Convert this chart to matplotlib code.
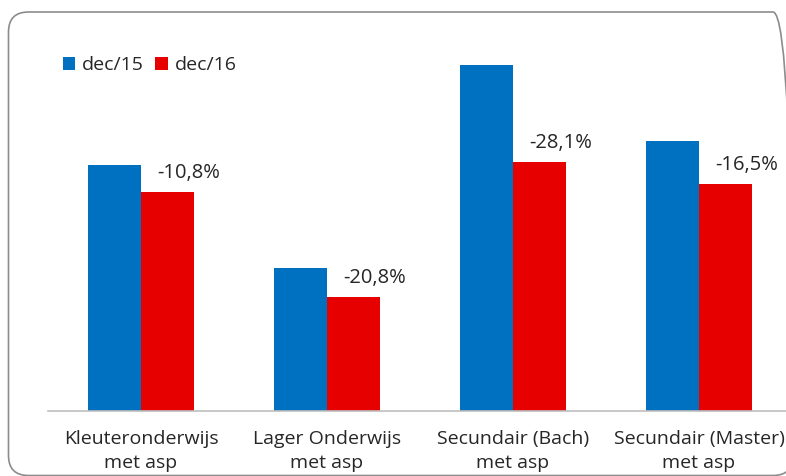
import matplotlib
matplotlib.use("Agg")
import matplotlib.pyplot as plt
from matplotlib.patches import FancyBboxPatch
from matplotlib.transforms import IdentityTransform
import numpy as np

categories = ["Kleuteronderwijs\nmet asp", "Lager Onderwijs\nmet asp",
              "Secundair (Bach)\nmet asp", "Secundair (Master)\nmet asp"]
dec15 = [246, 143, 346, 270]
dec16 = [219, 114, 249, 227]
changes = ["-10,8%", "-20,8%", "-28,1%", "-16,5%"]
series_names = ["dec/15", "dec/16"]

W, H = 786, 476
fig = plt.figure(figsize=(W / 100, H / 100), dpi=100)
plt.rcParams['font.family'] = ['Open Sans', 'DejaVu Sans']
FS = 14
TC = "#262626"

# rounded border (pixel coordinates, origin bottom-left)
box = FancyBboxPatch((8.5, H - 475.5), 793 - 8.5, 475.5 - 12,
                     boxstyle="round,pad=0,rounding_size=20",
                     transform=IdentityTransform(), fill=False,
                     edgecolor="#8c8c8c", linewidth=1.2)
fig.patches.append(box)

ax_left, ax_right = 48, 792
ax_bottom, ax_top = 411, 40
ax = fig.add_axes([ax_left / W, 1 - ax_bottom / H, (ax_right - ax_left) / W,
                   (ax_bottom - ax_top) / H])
ax.set_xlim(-0.5, 3.5)
ax.set_ylim(0, ax_bottom - ax_top)

x = np.arange(len(categories))
bw = 53 / 186
ax.bar(x - bw / 2, dec15, bw, color="#0070C0", label=series_names[0])
ax.bar(x + bw / 2, dec16, bw, color="#E60000", label=series_names[1])

for xi, v, t in zip(x, dec16, changes):
    ax.annotate(t, (xi + bw / 2, v), xytext=(15, 14), textcoords="offset points",
                ha="center", va="center", fontsize=14.5, color=TC)

for s in ["top", "right", "left"]:
    ax.spines[s].set_visible(False)
ax.spines["bottom"].set_color("#bfbfbf")
ax.spines["bottom"].set_linewidth(1.2)
ax.set_yticks([])
ax.set_xticks(x)
ax.set_xticklabels(categories, fontsize=FS, color=TC, linespacing=1.4)
ax.tick_params(axis="x", length=0, pad=14)
ax.patch.set_alpha(0)

leg = ax.legend(loc="upper left", bbox_to_anchor=((45 - ax_left) / (ax_right - ax_left), 1 + 1 / (ax_bottom - ax_top)),
                ncol=2, frameon=False, fontsize=FS, handlelength=0.65,
                handleheight=0.65, handletextpad=0.35, columnspacing=0.6)
for t in leg.get_texts():
    t.set_color(TC)

fig.savefig("out.png", dpi=100)
